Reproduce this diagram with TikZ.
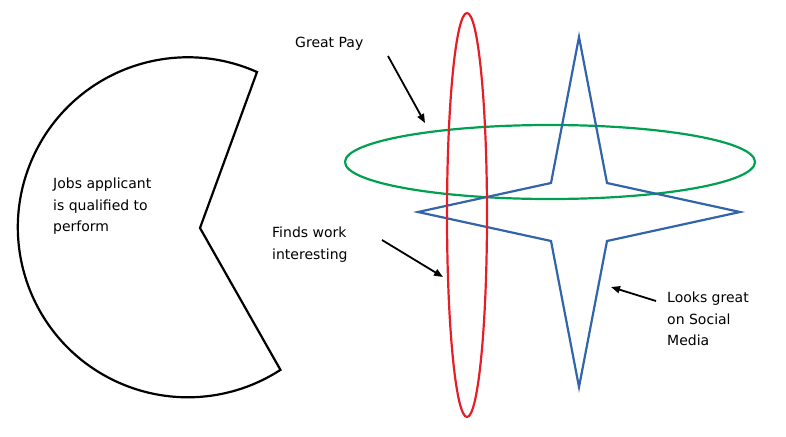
\documentclass[tikz,border=0pt]{standalone}
\usepackage{fontspec}
\setmainfont{DejaVu Sans}
\usetikzlibrary{arrows.meta}
\definecolor{RingGreen}{RGB}{0,160,80}
\definecolor{RingRed}{RGB}{230,30,40}
\definecolor{StarBlue}{RGB}{50,100,170}
\tikzset{
    note/.style={align=left, anchor=north west, inner sep=0pt, font=\fontsize{14}{21.5}\selectfont},
    pointer/.style={-{Triangle[length=9pt,width=7pt]}, line width=1.8pt}
}
\begin{document}
\begin{tikzpicture}[x=1pt, y=-1pt]
\useasboundingbox (0,0) rectangle (786,436);

% Figura de la izquierda
\draw[line width=2.2pt, line join=miter]
    (200,228) -- (257,72) arc[start angle=-66, end angle=-303, radius=170] -- cycle;
\node[note] (jobs) at (53,178) {Jobs applicant\\is qualified to\\perform};

% Elipses y estrella
\draw[RingGreen, line width=2.2pt] (550,162) ellipse[x radius=205, y radius=37];
\draw[StarBlue, line width=2.2pt, line join=miter]
    (579,37) -- (607,183) -- (740,212) -- (607,241) -- (579,387)
    -- (551,241) -- (418,212) -- (551,183) -- cycle;
\draw[RingRed, line width=2.2pt] (467,215) ellipse[x radius=20, y radius=202];

% Etiquetas con flechas
\node[note] (pay) at (295,37) {Great Pay};
\coordinate (payTip) at (425,123);
\draw[pointer] (388,56) -- (payTip);

\node[note] (work) at (272,227) {Finds work\\interesting};
\coordinate (workTip) at (443,277);
\draw[pointer] (382,240) -- (workTip);

\node[note] (looks) at (667,292) {Looks great\\on Social\\Media};
\coordinate (looksTip) at (611,287);
\draw[pointer] (656,301) -- (looksTip);

\end{tikzpicture}
\end{document}
